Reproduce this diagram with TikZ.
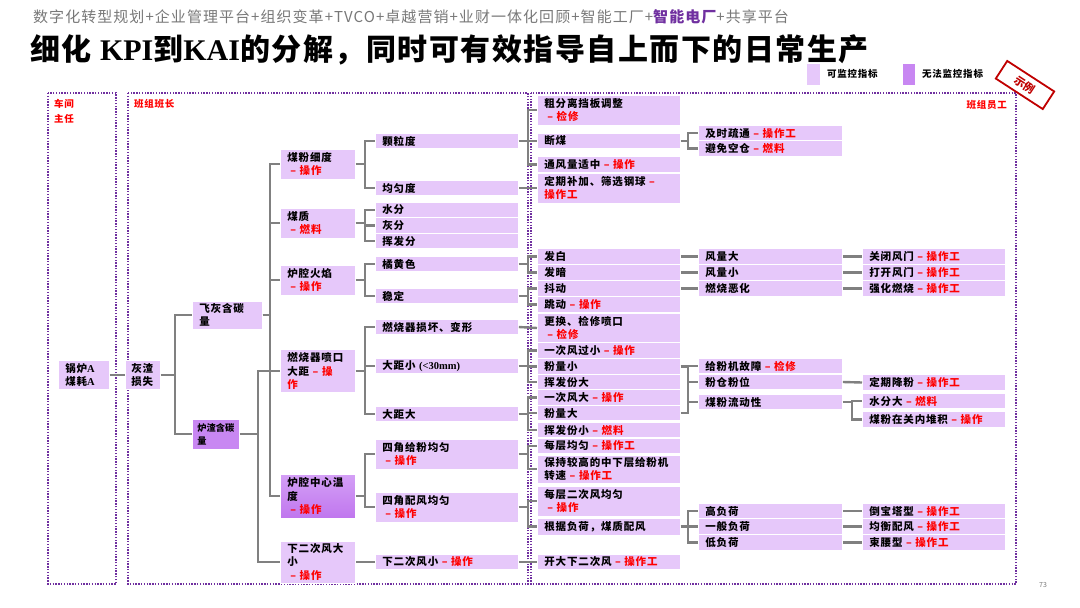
\documentclass[tikz,border=0pt]{standalone}
\usepackage{fontspec}
\setmainfont{Noto Sans CJK SC}
\newfontfamily\nodefont{Noto Sans CJK SC}[LetterSpace=8]
\newfontfamily\hdrfont{Noto Sans CJK SC}[LetterSpace=7]
\newfontfamily\ttlfont{Noto Sans CJK SC}[LetterSpace=5]
\newfontfamily\latinserif{Liberation Serif}
\usetikzlibrary{positioning}

\definecolor{boxc}{RGB}{230,200,250}
\definecolor{darkc}{RGB}{200,135,242}
\definecolor{linec}{RGB}{128,128,128}
\definecolor{framec}{RGB}{112,48,160}
\definecolor{opred}{RGB}{255,0,0}
\definecolor{hdrgray}{RGB}{120,120,120}
\definecolor{stampc}{RGB}{192,0,0}

\newcommand{\opr}[1]{\textcolor{opred}{– #1}}

\begin{document}
\begin{tikzpicture}[x=1pt,y=-1pt,
  box/.style={fill=boxc, draw=white, line width=0.8pt, anchor=west, inner xsep=7pt, inner ysep=0pt, align=left, font=\nodefont\bfseries\fontsize{10.5}{13.5}\selectfont},
  c3/.style={box, text width=61},
  c4/.style={box, text width=129},
  c6/.style={box, text width=130},
  l1/.style={minimum height=15.5},
  l2/.style={minimum height=30},
  l3/.style={minimum height=43},
  conn/.style={draw=linec, line width=2.4pt},
  frame/.style={draw=framec, line width=1.4pt, dash pattern=on 1.4pt off 1.4pt},
  flabel/.style={anchor=north west, inner sep=2pt, text=opred, align=left, font=\nodefont\bfseries\fontsize{9.5}{15}\selectfont}
]
\useasboundingbox (0,0) rectangle (1080,608);

% Header and title
\node[anchor=west, inner sep=0, text=hdrgray, font=\hdrfont\fontsize{15}{16}\selectfont] (hdr) at (33,17)
  {数字化转型规划+企业管理平台+组织变革+TVCO+卓越营销+业财一体化回顾+智能工厂+\textcolor{framec}{\bfseries 智能电厂}+共享平台};
\node[anchor=west, inner sep=0, font=\ttlfont\bfseries\fontsize{30}{32}\selectfont] (ttl) at (30,50)
  {细化 {\latinserif KPI}到{\latinserif KAI}的分解，同时可有效指导自上而下的日常生产};

% Legend
\node[fill=boxc, minimum width=13, minimum height=21, inner sep=0] (lgA) at (813.5,74) {};
\node[anchor=west, inner sep=0, font=\nodefont\bfseries\fontsize{9.5}{11}\selectfont] (lgAt) at (827,74) {可监控指标};
\node[fill=darkc, minimum width=12, minimum height=21, inner sep=0] (lgB) at (908.5,74) {};
\node[anchor=west, inner sep=0, font=\nodefont\bfseries\fontsize{9.5}{11}\selectfont] (lgBt) at (922,74) {无法监控指标};

% Frames
\draw[frame] (48,93) rectangle (116,584);
\draw[frame] (128,93) rectangle (528,584);
\draw[frame] (531,93) rectangle (1016,584);
\node[flabel] (lbA) at (52,97) {车间\\主任};
\node[flabel] (lbB) at (132,97) {班组班长};
\node[flabel, anchor=north east] (lbC) at (1009,98) {班组员工};

% Stamp
\node[draw=stampc, line width=1.8pt, fill=white, rotate=-33, minimum width=56, minimum height=21, inner sep=0, text=stampc, font=\bfseries\fontsize{11}{12}\selectfont] (stamp) at (1025,85) {示例};

% Columns 0-2
\node[box, text width=37, minimum height=29] (guolu) at (58,375) {锅炉{\latinserif A}\\煤耗{\latinserif A}};
\node[box, inner xsep=6pt, text width=23, minimum height=29] (huizha) at (125,375) {灰渣\\损失};
\node[box, text width=56, minimum height=28] (feihui) at (192,315) {飞灰含碳\\量};
\node[box, fill=darkc, inner xsep=5pt, text width=37, minimum height=30, font=\bfseries\fontsize{9.2}{13}\selectfont] (luzha) at (192,434) {炉渣含碳\\量};

% Column 3
\node[c3, l2] (mfxd) at (280,164) {煤粉细度\\\hspace*{3pt}\opr{操作}};
\node[c3, l2] (mz) at (280,223) {煤质\\\hspace*{3pt}\opr{燃料}};
\node[c3, l2] (lqhy) at (280,280) {炉腔火焰\\\hspace*{3pt}\opr{操作}};
\node[c3, l3] (rsq) at (280,371) {燃烧器喷口\\大距 \textcolor{opred}{– 操}\\\textcolor{opred}{作}};
\node[c3, minimum height=44, top color={rgb,255:red,212;green,160;blue,246}, bottom color={rgb,255:red,192;green,118;blue,238}] (lqzx) at (280,496) {炉腔中心温\\度\\\hspace*{3pt}\opr{操作}};
\node[c3, minimum height=42] (xecf) at (280,562) {下二次风大\\小\\\hspace*{3pt}\opr{操作}};

% Column 4
\node[c4, l1] (klj) at (375,141) {颗粒度};
\node[c4, l1] (jyd) at (375,188) {均匀度};
\node[c4, l1] (sf) at (375,210) {水分};
\node[c4, l1] (hf) at (375,225.5) {灰分};
\node[c4, l1] (hff) at (375,241) {挥发分};
\node[c4, l1] (jhs) at (375,264) {橘黄色};
\node[c4, l1] (wd) at (375,296) {稳定};
\node[c4, l1] (rsqsh) at (375,327) {燃烧器损坏、变形};
\node[c4, l1] (djx) at (375,366) {大距小 {\latinserif (<30mm)}};
\node[c4, l1] (djd) at (375,414) {大距大};
\node[c4, l2] (sjgf) at (375,454) {四角给粉均匀\\\hspace*{3pt}\opr{操作}};
\node[c4, l2] (sjpf) at (375,507) {四角配风均匀\\\hspace*{3pt}\opr{操作}};
\node[c4, l1] (xecfx) at (375,562) {下二次风小 \opr{操作}};

% Column 5
\node[c4, l2] (cfl) at (537,110) {粗分离挡板调整\\\hspace*{3pt}\opr{检修}};
\node[c4, l1] (dm) at (537,141) {断煤};
\node[c4, l1] (tfl) at (537,164.5) {通风量适中 \opr{操作}};
\node[c4, l2] (dqbj) at (537,188) {定期补加、筛选钢球 \textcolor{opred}{–}\\\textcolor{opred}{操作工}};
\node[c4, l1] (fb) at (537,256.5) {发白};
\node[c4, l1] (fa) at (537,272.5) {发暗};
\node[c4, l1] (dd) at (537,288.5) {抖动};
\node[c4, l1] (td) at (537,304.5) {跳动 \opr{操作}};
\node[c4, minimum height=29] (ghjx) at (537,328) {更换、检修喷口\\\hspace*{3pt}\opr{检修}};
\node[c4, l1] (ycfgx) at (537,350.5) {一次风过小 \opr{操作}};
\node[c4, l1] (flx) at (537,366.5) {粉量小};
\node[c4, l1] (hffd) at (537,382) {挥发份大};
\node[c4, l1] (ycfd) at (537,397.5) {一次风大 \opr{操作}};
\node[c4, l1] (fld) at (537,413) {粉量大};
\node[c4, l1] (hffx) at (537,430) {挥发份小 \opr{燃料}};
\node[c4, l1] (mcjy) at (537,446) {每层均匀 \opr{操作工}};
\node[c4, minimum height=28] (bcjg) at (537,469) {保持较高的中下层给粉机\\转速 \opr{操作工}};
\node[c4, l2] (mcec) at (537,501) {每层二次风均匀\\\hspace*{3pt}\opr{操作}};
\node[c4, minimum height=17] (gjfh) at (537,526.5) {根据负荷，煤质配风};
\node[c4, l1] (kdxe) at (537,562) {开大下二次风 \opr{操作工}};

% Column 6
\node[c6, l1] (jsst) at (698,133) {及时疏通 \opr{操作工}};
\node[c6, l1] (bmkc) at (698,148.5) {避免空仓 \opr{燃料}};
\node[c6, l1] (flda) at (698,256.5) {风量大};
\node[c6, l1] (flxa) at (698,272.5) {风量小};
\node[c6, l1] (rseh) at (698,288.5) {燃烧恶化};
\node[c6, l1] (gfj) at (698,366) {给粉机故障 \opr{检修}};
\node[c6, l1] (fcfw) at (698,382) {粉仓粉位};
\node[c6, l1] (mfld) at (698,402) {煤粉流动性};
\node[c6, l1] (gfh) at (698,511) {高负荷};
\node[c6, l1] (ybfh) at (698,526.5) {一般负荷};
\node[c6, l1] (dfh) at (698,542.5) {低负荷};

% Column 7
\node[c4, l1] (gbfm) at (862,256.5) {关闭风门 \opr{操作工}};
\node[c4, l1] (dkfm) at (862,272.5) {打开风门 \opr{操作工}};
\node[c4, l1] (qhrs) at (862,288.5) {强化燃烧 \opr{操作工}};
\node[c4, l1] (dqjf) at (862,382.5) {定期降粉 \opr{操作工}};
\node[c4, l1] (sfd) at (862,401) {水分大 \opr{燃料}};
\node[c4, l1] (mfzg) at (862,419.5) {煤粉在关内堆积 \opr{操作}};
\node[c4, l1] (dbt) at (862,511) {倒宝塔型 \opr{操作工}};
\node[c4, l1] (jhpf) at (862,526.5) {均衡配风 \opr{操作工}};
\node[c4, l1] (syx) at (862,542.5) {束腰型 \opr{操作工}};

% Connectors, columns 0-3
\draw[conn] (guolu.east) -- (huizha.west);
\draw[conn] (huizha.east) -| ([xshift=-17]feihui.west) -- (feihui.west);
\draw[conn] (huizha.east) -| ([xshift=-17]luzha.west) -- (luzha.west);
\draw[conn] (feihui.east) -| ([xshift=-10]mfxd.west) -- (mfxd.west);
\draw[conn] (feihui.east) -| ([xshift=-10]mz.west) -- (mz.west);
\draw[conn] (feihui.east) -| ([xshift=-10]lqhy.west) -- (lqhy.west);
\draw[conn] (feihui.east) -| ([xshift=-10]rsq.west) -- (rsq.west);
\draw[conn] (feihui.east) -| ([xshift=-10]lqzx.west) -- (lqzx.west);
\draw[conn] (luzha.east) -| ([xshift=-22]rsq.west) -- (rsq.west);
\draw[conn] (luzha.east) -| ([xshift=-22]xecf.west) -- (xecf.west);

% Connectors, column 3 to 4
\draw[conn] (mfxd.east) -| ([xshift=-10]klj.west) -- (klj.west);
\draw[conn] (mfxd.east) -| ([xshift=-10]jyd.west) -- (jyd.west);
\draw[conn] (mz.east) -| ([xshift=-10]sf.west) -- (sf.west);
\draw[conn] (mz.east) -| ([xshift=-10]hf.west) -- (hf.west);
\draw[conn] (mz.east) -| ([xshift=-10]hff.west) -- (hff.west);
\draw[conn] (lqhy.east) -| ([xshift=-10]jhs.west) -- (jhs.west);
\draw[conn] (lqhy.east) -| ([xshift=-10]wd.west) -- (wd.west);
\draw[conn] (rsq.east) -| ([xshift=-10]rsqsh.west) -- (rsqsh.west);
\draw[conn] (rsq.east) -| ([xshift=-10]djx.west) -- (djx.west);
\draw[conn] (rsq.east) -| ([xshift=-10]djd.west) -- (djd.west);
\draw[conn] (lqzx.east) -| ([xshift=-10]sjgf.west) -- (sjgf.west);
\draw[conn] (lqzx.east) -| ([xshift=-10]sjpf.west) -- (sjpf.west);
\draw[conn] (xecf.east) -- (xecfx.west);

% Connectors, column 4 to 5
\draw[conn] (klj.east) -| ([xshift=-9]cfl.west) -- (cfl.west);
\draw[conn] (klj.east) -| ([xshift=-9]dm.west) -- (dm.west);
\draw[conn] (klj.east) -| ([xshift=-9]tfl.west) -- (tfl.west);
\draw[conn] (jyd.east) -- (dqbj.west);
\draw[conn] (jhs.east) -| ([xshift=-9]fb.west) -- (fb.west);
\draw[conn] (jhs.east) -| ([xshift=-9]fa.west) -- (fa.west);
\draw[conn] (wd.east) -| ([xshift=-9]dd.west) -- (dd.west);
\draw[conn] (wd.east) -| ([xshift=-9]td.west) -- (td.west);
\draw[conn] (rsqsh.east) -- (ghjx.west);
\draw[conn] (djx.east) -| ([xshift=-9]ycfgx.west) -- (ycfgx.west);
\draw[conn] (djx.east) -| ([xshift=-9]flx.west) -- (flx.west);
\draw[conn] (djx.east) -| ([xshift=-9]hffd.west) -- (hffd.west);
\draw[conn] (djd.east) -| ([xshift=-9]ycfd.west) -- (ycfd.west);
\draw[conn] (djd.east) -| ([xshift=-9]fld.west) -- (fld.west);
\draw[conn] (djd.east) -| ([xshift=-9]hffx.west) -- (hffx.west);
\draw[conn] (sjgf.east) -| ([xshift=-9]mcjy.west) -- (mcjy.west);
\draw[conn] (sjgf.east) -| ([xshift=-9]bcjg.west) -- (bcjg.west);
\draw[conn] (sjpf.east) -| ([xshift=-9]mcec.west) -- (mcec.west);
\draw[conn] (sjpf.east) -| ([xshift=-9]gjfh.west) -- (gjfh.west);
\draw[conn] (xecfx.east) -- (kdxe.west);

% Connectors, column 5 to 6
\draw[conn] (dm.east) -| ([xshift=-10]jsst.west) -- (jsst.west);
\draw[conn] (dm.east) -| ([xshift=-10]bmkc.west) -- (bmkc.west);
\draw[conn] (fb.east) -- (flda.west);
\draw[conn] (fa.east) -- (flxa.west);
\draw[conn] (dd.east) -- (rseh.west);
\draw[conn] (flx.east) -| ([xshift=-10]gfj.west) -- (gfj.west);
\draw[conn] (flx.east) -| ([xshift=-10]fcfw.west) -- (fcfw.west);
\draw[conn] (flx.east) -| ([xshift=-10]mfld.west) -- (mfld.west);
\draw[conn] (fld.east) -| ([xshift=-10]mfld.west) -- (mfld.west);
\draw[conn] (gjfh.east) -| ([xshift=-10]gfh.west) -- (gfh.west);
\draw[conn] (gjfh.east) -| ([xshift=-10]ybfh.west) -- (ybfh.west);
\draw[conn] (gjfh.east) -| ([xshift=-10]dfh.west) -- (dfh.west);

% Connectors, column 6 to 7
\draw[conn] (flda.east) -- (gbfm.west);
\draw[conn] (flxa.east) -- (dkfm.west);
\draw[conn] (rseh.east) -- (qhrs.west);
\draw[conn] (fcfw.east) -- (dqjf.west);
\draw[conn] (mfld.east) -| ([xshift=-10]sfd.west) -- (sfd.west);
\draw[conn] (mfld.east) -| ([xshift=-10]mfzg.west) -- (mfzg.west);
\draw[conn] (gfh.east) -- (dbt.west);
\draw[conn] (ybfh.east) -- (jhpf.west);
\draw[conn] (dfh.east) -- (syx.west);

% Page number
\node[text=hdrgray, font=\fontsize{7}{8}\selectfont] (pg) at (1043,585) {73};

\end{tikzpicture}
\end{document}
